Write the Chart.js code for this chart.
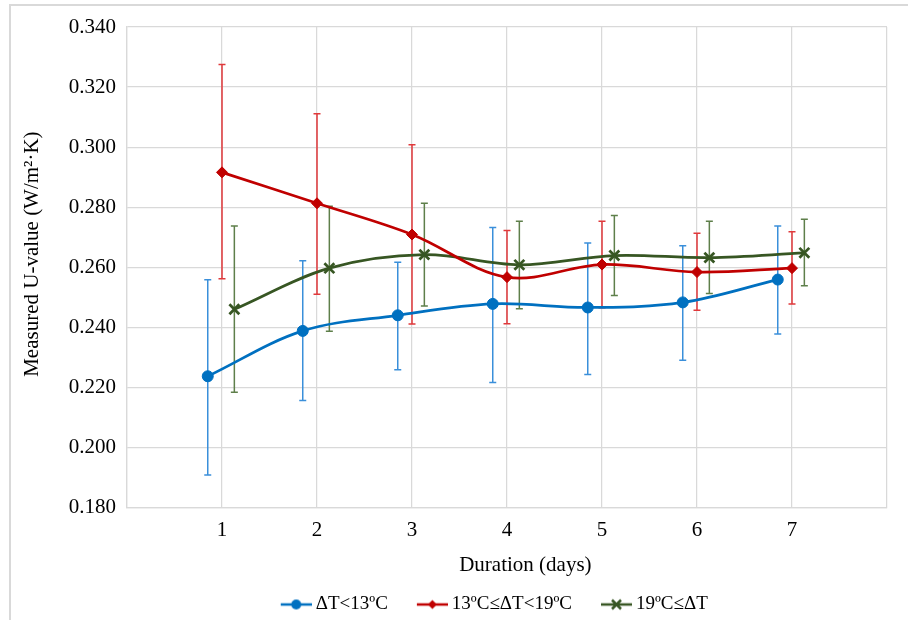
<!DOCTYPE html>
<html>
<head>
<meta charset="utf-8">
<script src="https://cdn.jsdelivr.net/npm/chart.js@4.4.1/dist/chart.umd.min.js"></script>
<style>
html,body{margin:0;padding:0;background:#fff;overflow:hidden;width:908px;height:620px;}
#frame{position:absolute;left:9px;top:4px;width:1000px;height:1000px;border:2px solid #d9d9d9;box-sizing:border-box;}
#wrap{position:absolute;left:0;top:0;width:908px;height:620px;}
</style>
</head>
<body>
<div id="frame"></div>
<div id="wrap"><canvas id="c" width="908" height="620"></canvas></div>
<script>
// ---- data ----
const categories = [1, 2, 3, 4, 5, 6, 7];
const seriesNames = ['ΔT<13ºC', '13ºC≤ΔT<19ºC', '19ºC≤ΔT'];
const yTicks = [0.180, 0.200, 0.220, 0.240, 0.260, 0.280, 0.300, 0.320, 0.340];
const xTitle = 'Duration (days)';
const yTitle = 'Measured U-value (W/m²·K)';

const blueX = [0.85, 1.85, 2.85, 3.85, 4.85, 5.85, 6.85];
const blueY = [0.2237, 0.2388, 0.2440, 0.2478, 0.2466, 0.2483, 0.2559];
const blueHigh = [0.2558, 0.2622, 0.2617, 0.2732, 0.2681, 0.2672, 0.2737];
const blueLow = [0.1908, 0.2156, 0.2259, 0.2216, 0.2243, 0.2290, 0.2378];

const redX = [1, 2, 3, 4, 5, 6, 7];
const redY = [0.2916, 0.2813, 0.2709, 0.2567, 0.2609, 0.2584, 0.2597];
const redHigh = [0.3275, 0.3111, 0.3008, 0.2722, 0.2753, 0.2713, 0.2718];
const redLow = [0.2562, 0.2510, 0.2411, 0.2412, 0.2465, 0.2457, 0.2478];

const greenX = [1.13, 2.13, 3.13, 4.13, 5.13, 6.13, 7.13];
const greenY = [0.2460, 0.2597, 0.2642, 0.2608, 0.2639, 0.2632, 0.2648];
const greenHigh = [0.2737, 0.2803, 0.2813, 0.2753, 0.2772, 0.2753, 0.2760];
const greenLow = [0.2184, 0.2387, 0.2471, 0.2462, 0.2506, 0.2513, 0.2538];

// ---- styles ----
const lineColors = ['#0070C0', '#C00000', '#375623'];
const barColors = ['#3A8FDA', '#E0393B', '#5E7F4A'];
const markerStyles = ['circle', 'rectRot', 'crossRot'];
const FONT = 'Liberation Serif';
const LEGEND_SHIFT_X = 35;
const LEGEND_SHIFT_Y = 4;

function pts(xs, ys) { return xs.map((x, i) => ({x: x, y: ys[i]})); }

const errorSets = [
  {xs: blueX, hi: blueHigh, lo: blueLow},
  {xs: redX, hi: redHigh, lo: redLow},
  {xs: greenX, hi: greenHigh, lo: greenLow}
];

function legendIcon(color, style) {
  const W = 58, H = 16;
  const c = document.createElement('canvas');
  c.width = W; c.height = H;
  const g = c.getContext('2d');
  g.strokeStyle = color; g.fillStyle = color; g.lineWidth = 2.5;
  g.beginPath(); g.moveTo(27, H / 2); g.lineTo(58, H / 2); g.stroke();
  const cx = 42.5, cy = H / 2;
  if (style === 'circle') {
    g.beginPath(); g.arc(cx, cy, 5, 0, Math.PI * 2); g.fill();
  } else if (style === 'rectRot') {
    g.beginPath(); g.moveTo(cx, cy - 4.5); g.lineTo(cx + 4.5, cy); g.lineTo(cx, cy + 4.5); g.lineTo(cx - 4.5, cy); g.closePath(); g.fill();
  } else {
    const r = 4.5;
    g.beginPath(); g.moveTo(cx - r, cy - r); g.lineTo(cx + r, cy + r); g.moveTo(cx + r, cy - r); g.lineTo(cx - r, cy + r); g.stroke();
  }
  return c;
}
const icons = lineColors.map((c, i) => legendIcon(c, markerStyles[i]));

const errorBarPlugin = {
  id: 'errorBars',
  beforeDatasetsDraw(chart) {
    const {ctx, scales} = chart;
    const xs = scales.x, ys = scales.y;
    errorSets.forEach((eb, i) => {
      ctx.save();
      ctx.strokeStyle = barColors[i];
      ctx.lineWidth = 1.5;
      eb.xs.forEach((xv, j) => {
        const px = xs.getPixelForValue(xv);
        const pt = ys.getPixelForValue(eb.hi[j]);
        const pb = ys.getPixelForValue(eb.lo[j]);
        ctx.beginPath();
        ctx.moveTo(px, pt); ctx.lineTo(px, pb);
        ctx.moveTo(px - 3.5, pt); ctx.lineTo(px + 3.5, pt);
        ctx.moveTo(px - 3.5, pb); ctx.lineTo(px + 3.5, pb);
        ctx.stroke();
      });
      ctx.restore();
    });
  }
};

const legendShiftPlugin = {
  id: 'legendShift',
  afterLayout(chart) {
    const l = chart.legend;
    if (l) {
      l.left += LEGEND_SHIFT_X; l.right += LEGEND_SHIFT_X;
      l.top += LEGEND_SHIFT_Y; l.bottom += LEGEND_SHIFT_Y;
    }
  }
};

const seriesX = [blueX, redX, greenX];
const seriesY = [blueY, redY, greenY];

const datasets = seriesNames.map((name, i) => ({
  label: name,
  data: pts(seriesX[i], seriesY[i]),
  borderColor: lineColors[i],
  backgroundColor: lineColors[i],
  borderWidth: 2.75,
  pointStyle: markerStyles[i],
  pointRadius: i === 0 ? 5.5 : (i === 1 ? 5.5 : 7),
  pointBorderWidth: i === 2 ? 2.75 : 1,
  pointBackgroundColor: lineColors[i],
  pointBorderColor: lineColors[i],
  tension: 0.35,
  fill: false
}));

new Chart(document.getElementById('c'), {
  type: 'line',
  data: {datasets: datasets},
  plugins: [errorBarPlugin, legendShiftPlugin],
  options: {
    responsive: false,
    devicePixelRatio: 1,
    animation: false,
    layout: {padding: {left: 10, right: 21, top: 27, bottom: 0}},
    scales: {
      x: {
        type: 'linear',
        min: 0, max: 8,
        afterBuildTicks(s) { s.ticks = [0].concat(categories, [8]).map(v => ({value: v})); },
        afterFit(s) { s.height = 76; },
        ticks: {
          padding: 10,
          color: '#000',
          font: {family: FONT, size: 21},
          maxRotation: 0,
          callback: v => (categories.indexOf(v) >= 0 ? String(v) : '')
        },
        grid: {color: '#d9d9d9', lineWidth: 1.25, drawTicks: false},
        border: {color: '#d9d9d9', width: 1.25},
        title: {display: true, text: '       ' + xTitle, color: '#000', font: {family: FONT, size: 21}, padding: {top: 0, bottom: 5}}
      },
      y: {
        min: 0.18, max: 0.34,
        afterBuildTicks(s) { s.ticks = yTicks.map(v => ({value: v})); },
        afterFit(s) { s.width = 117; },
        ticks: {
          padding: 11,
          color: '#000',
          font: {family: FONT, size: 21},
          callback: v => v.toFixed(3)
        },
        grid: {color: '#d9d9d9', lineWidth: 1.25, drawTicks: false},
        border: {color: '#d9d9d9', width: 1.25},
        title: {display: true, text: '     ' + yTitle, color: '#000', font: {family: FONT, size: 21}, padding: {top: 10, bottom: 0}}
      }
    },
    plugins: {
      tooltip: {enabled: false},
      legend: {
        position: 'bottom',
        labels: {
          usePointStyle: true,
          pointStyleWidth: 47,
          padding: 7.5,
          color: '#000',
          font: {family: FONT, size: 19, lineHeight: 1.0},
          generateLabels(chart) {
            return chart.data.datasets.map((ds, i) => ({
              text: ds.label,
              pointStyle: icons[i],
              fillStyle: lineColors[i],
              strokeStyle: lineColors[i],
              lineWidth: 0,
              fontColor: '#000',
              hidden: false,
              datasetIndex: i
            }));
          }
        }
      }
    }
  }
});
</script>
</body>
</html>
